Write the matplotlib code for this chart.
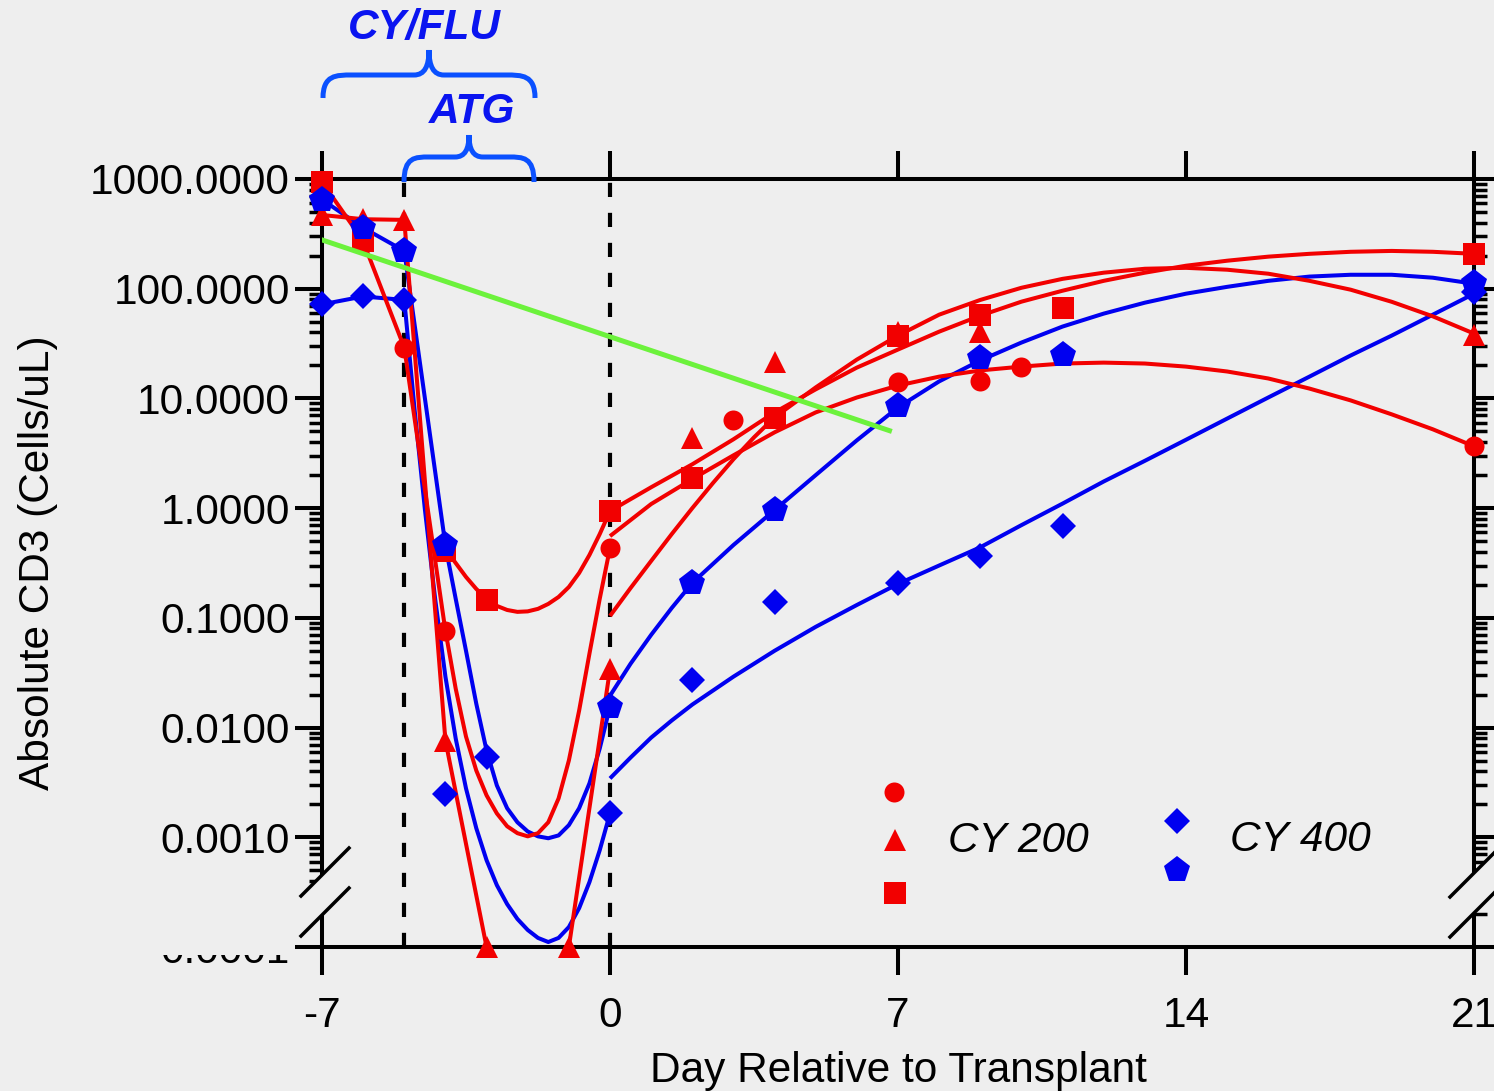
import numpy as np
import matplotlib
matplotlib.use('Agg')
import matplotlib.pyplot as plt
from matplotlib.lines import Line2D
from matplotlib.patches import Polygon, PathPatch
from matplotlib.path import Path
from matplotlib.transforms import Bbox
from matplotlib.ticker import LogLocator, NullFormatter

plt.rcParams['font.family'] = ['Liberation Sans', 'DejaVu Sans']

# ---------------- data ----------------
xtick_vals = [-7, 0, 7, 14, 21]
xtick_labels = ['-7', '0', '7', '14', '21']
ytick_vals = [1e-4, 1e-3, 1e-2, 1e-1, 1, 10, 100, 1000]
ytick_labels = ['0.0001', '0.0010', '0.0100', '0.1000', '1.0000', '10.0000', '100.0000', '1000.0000']
regimen_days = [-5, 0]

# CY 200 (red)
circ_day = [-6, -5, -4, 0, 3, 7, 9, 10, 21]
circ_val = [270, 29, 0.076, 0.43, 6.3, 14, 14.4, 19.5, 3.66]
tri_day = [-7, -6, -5, -4, -3, -1, 0, 2, 4, 7, 9, 21]
tri_val = [470, 430, 424, 0.0076, 1e-4, 1e-4, 0.034, 4.4, 21.7, 40.6, 40, 38]
sq_day = [-7, -6, -4, -3, 0, 2, 4, 7, 9, 11, 21]
sq_val = [940, 273, 0.41, 0.146, 0.94, 1.87, 6.7, 37.4, 57, 67, 208]

# CY 400 (blue)
dia_day = [-7, -6, -5, -4, -3, 0, 2, 4, 7, 9, 11, 21]
dia_val = [72, 85, 79, 0.0025, 0.0054, 0.00165, 0.027, 0.14, 0.21, 0.37, 0.69, 94]
pen_day = [-7, -6, -5, -4, 0, 2, 4, 7, 9, 11, 21]
pen_val = [650, 359, 221, 0.46, 0.0155, 0.21, 0.96, 8.6, 23.6, 25, 113]

# conditioning-period curves
dip_day = [-4, -3.75, -3.5, -3.25, -3, -2.75, -2.5, -2.25, -2, -1.75, -1.5, -1.25, -1,
           -0.75, -0.5, -0.25, 0]
circ_dip_val = [0.0762, 0.0226, 0.00828, 0.00406, 0.00241, 0.00165, 0.00126, 0.00109, 0.00102,
                0.00109, 0.00137, 0.00226, 0.00501, 0.0143, 0.0471, 0.149, 0.433]
sq_dip_val = [0.424, 0.316, 0.236, 0.1835, 0.149, 0.1285, 0.118, 0.1134, 0.1146, 0.1208, 0.134,
              0.155, 0.191, 0.2565, 0.374, 0.58, 0.939]
pen_dip_val = [0.452, 0.149, 0.0501, 0.0165, 0.00618, 0.00297, 0.00184, 0.00137, 0.00113,
               0.00102, 0.00098, 0.00104, 0.00129, 0.00184, 0.0031, 0.00644, 0.0155]
dia_dip_day = [-5, -4.75, -4.5, -4.25] + dip_day
dia_dip_val = [79.4, 7.94, 0.979, 0.149, 0.0291, 0.00794, 0.00279, 0.00121, 0.000618, 0.000366,
               0.000246, 0.00018, 0.000143, 0.000121, 0.000111, 0.000121, 0.000152, 0.000226,
               0.00039, 0.000762, 0.00165]

# post-transplant fitted curves
tri_fit_day = [0, 0.5, 1, 1.5, 2, 2.5, 3, 3.5, 4, 5, 6, 7, 8, 9, 10, 11, 12, 13, 14, 15, 16, 17,
               18, 19, 20, 21]
tri_fit = [0.104, 0.187, 0.33, 0.58, 1.0, 1.69, 2.79, 4.42, 6.72, 12.6, 22.6, 37.4, 58, 79, 102,
           123, 140, 152, 155, 149, 137, 118, 98, 76, 56, 39]
fit_day = list(range(0, 22))
sq_fit = [0.94, 1.55, 2.51, 4.24, 7.46, 12.1, 19.1, 27.9, 40.6, 56.8, 76.2, 95.9, 118, 140, 162,
          180, 196, 208, 217, 221, 217, 208]
circ_fit = [0.556, 1.09, 1.84, 3.03, 4.91, 7.46, 10.2, 13.1, 15.8, 18.0, 19.5, 20.8, 21.2, 20.8,
            19.5, 17.6, 15.2, 12.3, 9.6, 7.16, 5.23, 3.66]
blue_fit_day = [0, 0.5, 1, 1.5, 2, 3, 4, 5, 6, 7, 8, 9, 10, 11, 12, 13, 14, 15, 16, 17, 18, 19,
                20, 21]
pen_fit = [0.0195, 0.0382, 0.070, 0.123, 0.208, 0.461, 0.96, 2.0, 4.15, 8.28, 14.3, 22.2, 32.3,
           45.2, 59.3, 74.6, 90.1, 104, 118, 129, 134, 134, 126, 111]
dia_fit = [0.00344, 0.00533, 0.0081, 0.0116, 0.0162, 0.0291, 0.0501, 0.0828, 0.131, 0.204,
           0.300, 0.440, 0.700, 1.10, 1.75, 2.70, 4.20, 6.55, 10.2, 15.8, 24.6, 37.4, 58.0, 90.1]

# green reference line
green_day = [-7.15, 6.85]
green_val = [291, 5.0]

# ---------------- style ----------------
W, H, DPI = 1494, 1091, 100
BG = '#eeeeee'
RED = '#f20000'
BLUE = '#0000f0'
GREEN = '#6cf23c'
ANN_TXT = '#0a14f0'
ANN_BRACE = '#0a50ff'
FS = 30.5
LW = 2.9

fig = plt.figure(figsize=(W / DPI, H / DPI), dpi=DPI, facecolor=BG)
ax = fig.add_axes([322 / W, 1 - 947 / H, (1474 - 322) / W, (947 - 179) / H])
ax.set_facecolor(BG)
ax.set_yscale('log')
ax.set_xlim(-7, 21)
ax.set_ylim(1e-4, 1e3)


def fx(px, py):
    return (px / W, 1 - py / H)


# dashed regimen lines
for d in regimen_days:
    ax.axvline(d, color='black', lw=3.0, linestyle=(0, (3.4, 3.8)), zorder=1)

# lines
kw = dict(lw=LW, solid_joinstyle='round', solid_capstyle='butt', zorder=2)
# blue
ax.plot(pen_day[:4], pen_val[:4], color=BLUE, **kw)
ax.plot(dip_day, pen_dip_val, color=BLUE, **kw)
ax.plot(dia_day[:3], dia_val[:3], color=BLUE, **kw)
ax.plot(dia_dip_day, dia_dip_val, color=BLUE, **kw)
ax.plot(blue_fit_day, pen_fit, color=BLUE, **kw)
ax.plot(blue_fit_day, dia_fit, color=BLUE, **kw)
# red
ax.plot(tri_day[:7], tri_val[:7], color=RED, **kw)
ax.plot(circ_day[:3], circ_val[:3], color=RED, **kw)
ax.plot(dip_day, circ_dip_val, color=RED, **kw)
ax.plot(sq_day[:2], sq_val[:2], color=RED, **kw)
ax.plot(dip_day, sq_dip_val, color=RED, **kw)
ax.plot(tri_fit_day, tri_fit, color=RED, **kw)
ax.plot(fit_day, sq_fit, color=RED, **kw)
ax.plot(fit_day, circ_fit, color=RED, **kw)

# markers
mk = dict(linestyle='none', markeredgewidth=0, clip_on=False)
ax.plot(circ_day, circ_val, marker='o', ms=14.4, color=RED, zorder=4, **mk)
ax.plot(tri_day, tri_val, marker='^', ms=16, color=RED, zorder=4, **mk)
ax.plot(sq_day, sq_val, marker='s', ms=15.5, color=RED, zorder=4, **mk)
ax.plot(dia_day, dia_val, marker='D', ms=13.7, color=BLUE, zorder=5, **mk)
ax.plot(pen_day, pen_val, marker='p', ms=19.5, color=BLUE, zorder=5, **mk)

# green line
ax.plot(green_day, green_val, color=GREEN, lw=3.6, solid_capstyle='butt', zorder=6)

# axes styling
for s in ax.spines.values():
    s.set_linewidth(LW)
ax.set_xticks(xtick_vals)
ax.set_xticklabels(xtick_labels)
ax.set_yticks(ytick_vals)
ax.set_yticklabels([''] + ytick_labels[1:])
ax.yaxis.set_minor_locator(LogLocator(base=10, subs=np.arange(2, 10), numticks=30))
ax.yaxis.set_minor_formatter(NullFormatter())
ax.tick_params(axis='both', which='major', direction='out', width=LW, labelsize=FS, colors='black')
ax.tick_params(axis='y', which='major', length=19.5, pad=3.5, left=True, right=True,
               labelleft=True, labelright=False)
ax.tick_params(axis='y', which='minor', length=9.5, width=2.5, left=True, right=True, direction='out')
ax.tick_params(axis='x', which='major', length=20.5, pad=15, top=True, bottom=True, labeltop=False)

# clipped lowest tick label
t = fig.text(290 / W, 1 - 963 / H, ytick_labels[0], ha='right', va='baseline', fontsize=FS)
t.set_clip_box(Bbox.from_extents(0, H - 972, 400, H - 955))
t.set_clip_on(True)

# axis titles
fig.text(*fx(898, 1082), 'Day Relative to Transplant', ha='center', va='baseline', fontsize=FS)
fig.text(*fx(38, 563), 'Absolute CD3 (Cells/uL)', ha='center', va='center', rotation=90, fontsize=FS)

# axis breaks
for xc, yc1, yc2 in [(325, 872, 912), (1474, 873, 913)]:
    poly = Polygon([fx(xc - 24, yc1 + 24), fx(xc + 24, yc1 - 24), fx(xc + 24, yc2 - 24),
                    fx(xc - 24, yc2 + 24)], closed=True, transform=fig.transFigure,
                   facecolor=BG, edgecolor='none', zorder=10)
    fig.add_artist(poly)
    for yc in (yc1, yc2):
        (x0, y0), (x1, y1) = fx(xc - 24, yc + 24), fx(xc + 24, yc - 24)
        fig.add_artist(Line2D([x0, x1], [y0, y1], color='black', lw=2.5,
                              transform=fig.transFigure, zorder=11))


# braces
def brace(x0, x1, xc, yb, yh, ytop, cx=29, cx2=15):
    pts = [(x0, yb), (x0, yh), (x0 + cx * 0.45, yh), (x0 + cx, yh),
           (xc - cx2, yh),
           (xc - cx2 * 0.3, yh), (xc, yh - 0.35 * (yh - ytop)), (xc, ytop),
           (xc, yh - 0.35 * (yh - ytop)), (xc + cx2 * 0.3, yh), (xc + cx2, yh),
           (x1 - cx, yh),
           (x1 - cx * 0.45, yh), (x1, yh), (x1, yb)]
    codes = [Path.MOVETO, Path.CURVE4, Path.CURVE4, Path.CURVE4, Path.LINETO,
             Path.CURVE4, Path.CURVE4, Path.CURVE4,
             Path.CURVE4, Path.CURVE4, Path.CURVE4, Path.LINETO,
             Path.CURVE4, Path.CURVE4, Path.CURVE4]
    path = Path([fx(*p) for p in pts], codes)
    fig.add_artist(PathPatch(path, transform=fig.transFigure, facecolor='none',
                             edgecolor=ANN_BRACE, lw=3.6, capstyle='butt', zorder=12))


brace(323, 535, 429, 98, 75, 50)
brace(404, 534, 469, 182, 157, 135, cx=25, cx2=14)
fig.text(*fx(424, 39), 'CY/FLU', ha='center', va='baseline', fontsize=FS,
         fontweight='bold', fontstyle='italic', color=ANN_TXT)
fig.text(*fx(472, 123), 'ATG', ha='center', va='baseline', fontsize=FS,
         fontweight='bold', fontstyle='italic', color=ANN_TXT)

# legend
leg = [(894, 792, 'o', 14.4, RED), (895, 840, '^', 16, RED), (895, 893, 's', 15.5, RED),
       (1177, 821, 'D', 13.7, BLUE), (1177, 870, 'p', 19.5, BLUE)]
for px, py, m, s, c in leg:
    x, y = fx(px, py)
    fig.add_artist(Line2D([x], [y], marker=m, ms=s, color=c, markeredgewidth=0,
                          linestyle='none', transform=fig.transFigure))
fig.text(*fx(948, 852), 'CY 200', ha='left', va='baseline', fontsize=FS, fontstyle='italic')
fig.text(*fx(1230, 851), 'CY 400', ha='left', va='baseline', fontsize=FS, fontstyle='italic')

fig.savefig('out.png', dpi=DPI, facecolor=BG)
